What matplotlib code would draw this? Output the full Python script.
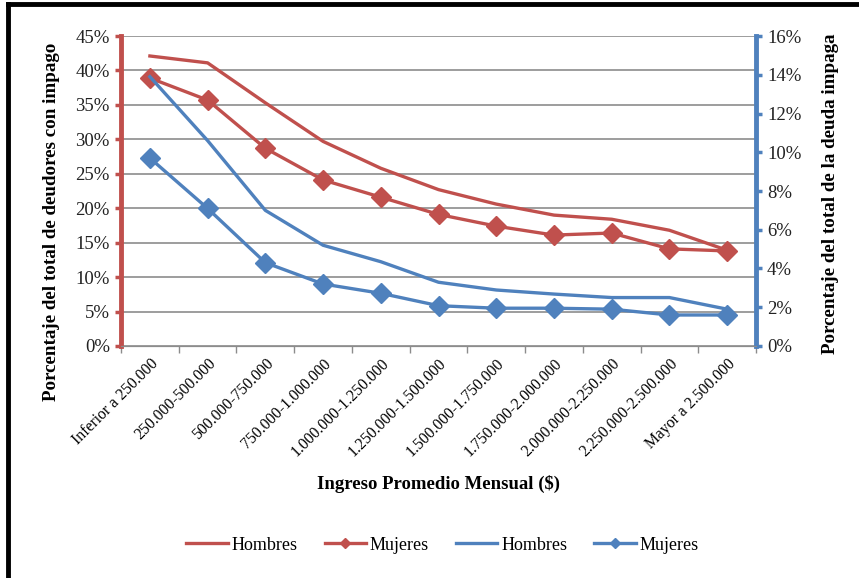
import numpy as np
import matplotlib.pyplot as plt
from matplotlib.lines import Line2D
from matplotlib.ticker import PercentFormatter

plt.rcParams['font.family'] = ['Liberation Serif', 'DejaVu Serif']

categorias = ['Inferior a 250.000', '250.000-500.000', '500.000-750.000',
              '750.000-1.000.000', '1.000.000-1.250.000', '1.250.000-1.500.000',
              '1.500.000-1.750.000', '1.750.000-2.000.000', '2.000.000-2.250.000',
              '2.250.000-2.500.000', 'Mayor a 2.500.000']

# porcentaje de deudores con impago (eje izquierdo)
deudores_hombres = [42.1, 41.1, 35.3, 29.7, 25.8, 22.7, 20.6, 19.0, 18.4, 16.8, 13.9]
deudores_mujeres = [38.9, 35.7, 28.7, 24.1, 21.6, 19.1, 17.4, 16.1, 16.4, 14.1, 13.8]

# porcentaje de la deuda impaga (eje derecho)
deuda_hombres = [13.9, 10.6, 7.0, 5.2, 4.35, 3.29, 2.89, 2.68, 2.5, 2.5, 1.9]
deuda_mujeres = [9.7, 7.1, 4.3, 3.2, 2.72, 2.08, 1.95, 1.95, 1.9, 1.6, 1.6]

rojo = '#C0504D'
azul = '#4F81BD'

fig = plt.figure(figsize=(8.59, 5.78), dpi=100)
ax = fig.add_axes([0.1409, 0.4014, 0.7392, 0.5363])
ax2 = ax.twinx()

x = np.arange(len(categorias))
ax.plot(x, deudores_hombres, color=rojo, lw=2.4, zorder=3)
ax.plot(x, deudores_mujeres, color=rojo, lw=2.4, marker='D', ms=10, zorder=3)
ax2.plot(x, deuda_hombres, color=azul, lw=2.4, zorder=3)
ax2.plot(x, deuda_mujeres, color=azul, lw=2.4, marker='D', ms=10, zorder=3)

ax.set_xlim(-0.5, len(categorias) - 0.5)
ax.set_ylim(0, 45)
ax2.set_ylim(0, 16)
ax.set_yticks(np.arange(0, 46, 5))
ax2.set_yticks(np.arange(0, 17, 2))
ax.yaxis.set_major_formatter(PercentFormatter(decimals=0))
ax2.yaxis.set_major_formatter(PercentFormatter(decimals=0))
ax.grid(axis='y', color='#8c8c8c', lw=1.2)
ax.set_axisbelow(True)

ax.set_xticks(x)
ax.set_xticklabels(categorias, rotation=45, ha='right', rotation_mode='anchor', fontsize=11.3)
ax.set_xticks(np.arange(-0.5, len(categorias), 1), minor=True)
ax.tick_params(axis='x', which='major', length=0, pad=7)
ax.tick_params(axis='x', which='minor', length=5, color='#8c8c8c', width=1)

for a in (ax, ax2):
    a.spines['top'].set_visible(False)
    a.spines['bottom'].set_color('#8c8c8c')
ax.spines['left'].set_color(rojo)
ax.spines['left'].set_linewidth(3.5)
ax.spines['right'].set_visible(False)
ax2.spines['left'].set_visible(False)
ax2.spines['right'].set_color(azul)
ax2.spines['right'].set_linewidth(3.5)
ax.tick_params(axis='y', colors=rojo, length=4, width=2.5, labelcolor='#222222', labelsize=13.5, pad=4)
ax2.tick_params(axis='y', colors=azul, length=4, width=2.5, labelcolor='#222222', labelsize=13.5, pad=4)

ax.set_ylabel('Porcentaje del total de deudores con impago', fontweight='bold', fontsize=13.7)
ax.yaxis.set_label_coords(-0.096, 0.40)
ax2.set_ylabel('Porcentaje del total de la deuda impaga', fontweight='bold', fontsize=13.7,
               rotation=90)
ax2.yaxis.set_label_coords(1.104, 0.49)
ax.set_xlabel('Ingreso Promedio Mensual ($)', fontweight='bold', fontsize=13.5, labelpad=11)

handles = [
    Line2D([], [], color=rojo, lw=2.4),
    Line2D([], [], color=rojo, lw=2.4, marker='D', ms=5),
    Line2D([], [], color=azul, lw=2.4),
    Line2D([], [], color=azul, lw=2.4, marker='D', ms=5),
]
fig.legend(handles, ['Hombres', 'Mujeres', 'Hombres', 'Mujeres'], loc='center',
           bbox_to_anchor=(0.515, 0.057), ncol=4, frameon=False, fontsize=13,
           handlelength=2.3, handletextpad=0.2, columnspacing=1.5)

# marco negro superior e izquierdo
fig.add_artist(Line2D([0.009, 1.0], [0.993, 0.993], color='black', lw=3.5, transform=fig.transFigure))
fig.add_artist(Line2D([0.009, 0.009], [0.0, 0.993], color='black', lw=3.5, transform=fig.transFigure))

fig.savefig('out.png', dpi=100)
